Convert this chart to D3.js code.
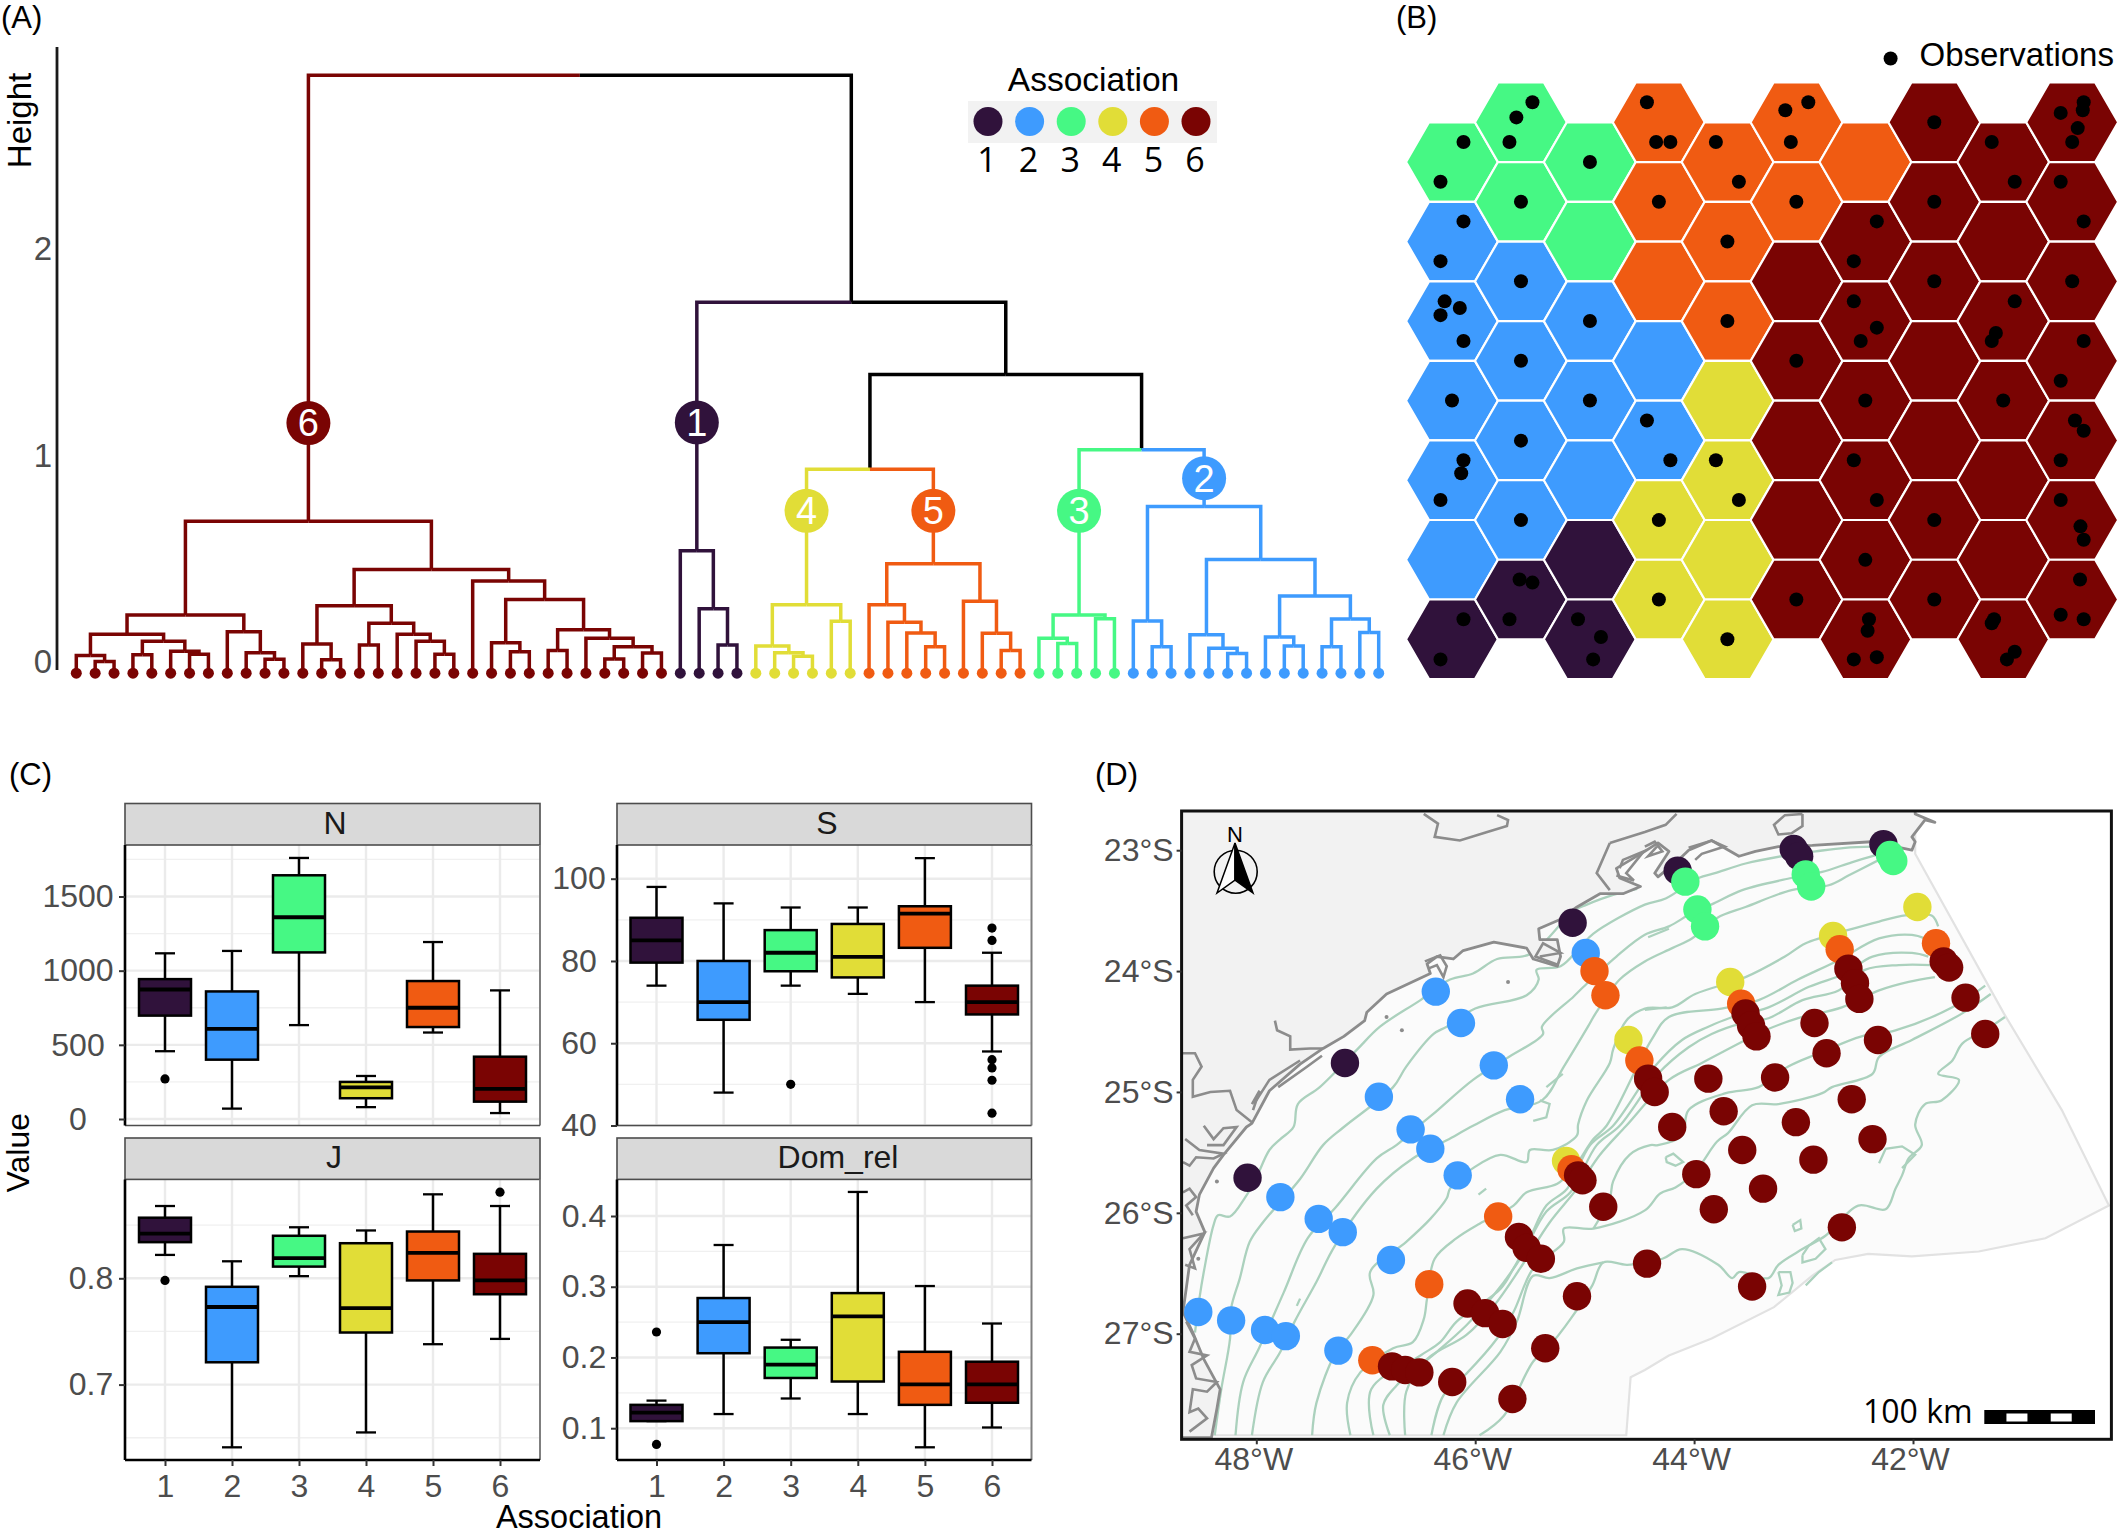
<!DOCTYPE html>
<html><head><meta charset="utf-8">
<script src="https://cdn.jsdelivr.net/npm/d3@7"></script>
<style>html,body{margin:0;padding:0;background:#fff}svg{display:block}text{font-family:'Liberation Sans',sans-serif}</style>
</head><body><svg id="fig" width="2121" height="1535" viewBox="0 0 2121 1535"></svg>
<script>
// ---------- shared ----------
const associations = ["1","2","3","4","5","6"];
const assocColors = ["#30123B","#3E9BFE","#46F884","#E1DD37","#F05B12","#7A0403"];

// ---------- (A) dendrogram: [height, left, right], 0 = leaf ----------
const cluster6 = [.682,
  [.227,
    [.134,[.032,0,[.002,0,0]],[.100,[.035,0,0],[.052,0,[.037,0,0]]]],
    [.147,0,[.045,0,[.013,0,0]]]],
  [.448,
    [.273,[.087,0,[.011,0,0]],[.188,[.082,0,0],[.134,0,[.100,0,[.037,0,0]]]]],
    [.392,0,[.303,[.093,0,[.050,0,0]],[.156,[.056,0,0],[.115,0,[.074,[.015,0,0],[.043,0,0]]]]]]]];
const cluster1 = [.539,0,[.258,0,[.082,0,0]]];
const cluster4 = [.277,[.078,0,[.045,0,[.028,0,0]]],[.197,0,0]];
const cluster5 = [.476,[.277,0,[.193,0,[.141,0,[.074,0,0]]]],[.294,0,[.139,0,[.056,0,0]]]];
const cluster3 = [.227,[.115,0,[.089,0,0]],[.210,0,0]];
const cluster2 = [.753,
  [.199,0,[.074,0,0]],
  [.496,
    [.132,0,[.067,0,[.041,0,0]]],
    [.320,[.121,0,[.078,0,0]],[.208,[.074,0,0],[.143,0,0]]]]];
const dendroRoot = [2.842,cluster6,[1.742,cluster1,[1.392,[.933,cluster4,cluster5],[1.028,cluster3,cluster2]]]];
const leafOrderSizes = [[6,32],[1,4],[4,6],[5,9],[3,5],[2,14]];
const clusterLabelHeights = {6:1.157,1:1.16,4:.732,5:.732,3:.732,2:.89};
const heightTicks = [0,1,2];
const leafHang = -0.054;

// ---------- (B) SOM grid: association per hexagon, column by column ----------
const somColumns = ["3222221","3322221","3322211","5552244","5554444","5566666","5666666","6666666","6666666","6666666"];
const somObservations = [[288,229],[253,263],[238,318],[138,318],[88,407],[413,363],[263,452],[537,229],[557,318],[588,318],[687,318],[737,407],[563,452],[712,541],[712,719],[888,229],[838,247],[850,318],[862,452],[1162,274],[1162,452],[1287,318],[1337,407],[1437,407],[1487,496],[1487,229],[1485,247],[1437,253],[1474,287],[1462,318],[1037,496],[987,585],[1162,630],[1462,630],[987,675],[1037,734],[1002,764],[1337,675],[1296,746],[1287,764],[1487,764],[1437,853],[862,808],[1012,897],[1312,897],[1468,942],[1487,965],[1437,1031],[987,1031],[1037,1120],[1162,1165],[1437,1120],[1480,1179],[1487,1209],[1012,1254],[862,1343],[1162,1343],[1479,1298],[1437,1377],[1487,1387],[1020,1387],[1017,1413],[987,1477],[1037,1472],[1292,1387],[1287,1396],[1337,1460],[1320,1477],[138,496],[88,585],[263,630],[97,675],[130,690],[88,706],[138,764],[413,719],[263,808],[113,897],[413,897],[263,987],[138,1031],[133,1060],[88,1120],[537,942],[588,1031],[263,1165],[687,1031],[737,1120],[563,1165],[563,1343],[712,1432],[260,1298],[288,1305],[238,1387],[138,1387],[88,1477],[387,1387],[437,1427],[420,1477]];

// ---------- (C) boxplots: [low whisker, q1, median, q3, high whisker] ----------
const boxN = [[457,697,873,943,1117],[70,400,607,860,1133],[633,1123,1360,1643,1760],[80,140,213,250,290],[583,620,750,930,1193],[40,117,203,420,867]];
const outN = [[0,270]];
const boxS = [[74,79.6,85,90.5,98],[48,65.7,70,80,94],[74,77.5,82,87.5,93],[72,76,81,89,93],[70,83.2,91.5,93.3,105],[58,67,70,74,82]];
const outS = [[2,50],[5,88],[5,85],[5,56],[5,54],[5,51],[5,43]];
const boxJ = [[.822,.834,.842,.857,.868],[.641,.721,.773,.792,.816],[.802,.811,.819,.840,.848],[.655,.749,.772,.833,.845],[.738,.798,.824,.844,.879],[.743,.785,.798,.823,.868]];
const outJ = [[0,.798],[5,.881]];
const boxDom = [[.110,.110,.122,.133,.139],[.120,.206,.250,.284,.359],[.142,.171,.190,.214,.225],[.120,.166,.258,.291,.434],[.073,.133,.162,.208,.301],[.101,.136,.162,.194,.248]];
const outDom = [[0,.236],[0,.077]];

// ---------- (D) map data, degrees (lon, lat south) ----------
const sites1 = [[-45.11,23.60],[-47.19,24.76],[-48.08,25.71],[-44.15,23.17],[-43.09,22.99],[-43.04,23.05],[-42.27,22.95]];
const sites2 = [[-44.99,23.85],[-46.36,24.17],[-46.13,24.43],[-45.83,24.78],[-45.59,25.06],[-46.88,25.04],[-46.59,25.31],[-46.41,25.47],[-46.16,25.69],[-47.78,25.87],[-47.43,26.05],[-47.21,26.16],[-46.77,26.39],[-48.53,26.82],[-48.23,26.89],[-47.92,26.97],[-47.73,27.02],[-47.25,27.14]];
const sites3 = [[-44.08,23.26],[-43.97,23.49],[-43.90,23.63],[-42.98,23.20],[-42.93,23.30],[-42.21,23.04],[-42.18,23.09]];
const sites4 = [[-45.17,25.57],[-41.96,23.47],[-42.73,23.71],[-43.67,24.09],[-44.60,24.57]];
const sites5 = [[-44.91,24.00],[-44.81,24.20],[-45.79,26.03],[-46.42,26.59],[-46.94,27.22],[-45.12,25.64],[-42.67,23.82],[-41.79,23.77],[-43.57,24.27],[-44.50,24.74]];
const sites6 = [[-45.06,25.69],[-45.02,25.73],[-44.83,25.95],[-45.60,26.20],[-45.53,26.29],[-45.40,26.38],[-46.07,26.75],[-45.91,26.83],[-45.75,26.92],[-45.07,26.69],[-45.36,27.12],[-46.76,27.27],[-46.64,27.30],[-46.51,27.32],[-46.21,27.40],[-45.66,27.54],[-42.59,23.98],[-42.53,24.10],[-42.49,24.23],[-41.72,23.92],[-41.67,23.97],[-41.52,24.22],[-41.34,24.52],[-43.53,24.35],[-43.48,24.45],[-43.43,24.54],[-42.90,24.43],[-42.79,24.68],[-42.32,24.57],[-44.42,24.89],[-44.36,25.00],[-43.87,24.89],[-43.26,24.88],[-42.56,25.06],[-43.73,25.16],[-43.07,25.25],[-42.37,25.39],[-44.20,25.29],[-43.56,25.48],[-42.91,25.56],[-43.98,25.68],[-43.37,25.80],[-43.82,25.97],[-42.65,26.12],[-44.43,26.42],[-43.47,26.61]];
const allSites = [sites1,sites2,sites3,sites4,sites5,sites6];

const iso1 = [[-48.56,26.99],[-48.52,26.71],[-48.48,26.49],[-48.39,26.10],[-48.35,26.02],[-48.24,26.03],[-48.10,25.87],[-48.01,25.73],[-47.88,25.48],[-47.78,25.39],[-47.66,25.29],[-47.62,25.10],[-47.42,24.96],[-47.08,24.65],[-46.87,24.46],[-46.50,24.24],[-46.23,24.07],[-46.02,24.02],[-45.80,23.90],[-45.50,23.86],[-45.10,23.50],[-44.98,23.45],[-44.74,23.37],[-44.52,23.32]];
const iso2 = [[-48.38,27.84],[-48.32,27.46],[-48.24,27.04],[-48.23,26.79],[-48.15,26.54],[-48.06,26.24],[-47.94,26.08],[-47.60,25.72],[-47.39,25.44],[-47.20,25.29],[-46.75,24.96],[-46.63,24.79],[-46.38,24.52],[-46.26,24.46],[-46.00,24.31],[-45.53,24.20],[-45.42,24.07],[-45.44,23.99],[-45.22,23.96],[-45.04,23.80],[-44.92,23.69],[-44.45,23.45],[-44.26,23.40],[-43.96,23.23],[-43.81,23.19],[-43.53,23.11],[-43.20,23.05],[-42.89,23.01],[-42.62,22.98],[-42.37,22.97]];
const iso3 = [[-48.19,27.84],[-48.12,27.40],[-47.97,27.11],[-47.75,26.66],[-47.53,26.21],[-47.28,25.96],[-46.90,25.55],[-46.72,25.44],[-46.53,25.29],[-46.38,25.18],[-46.02,24.90],[-45.71,24.72],[-45.38,24.52],[-45.39,24.46],[-45.10,24.21],[-45.01,24.13],[-44.71,23.88],[-44.45,23.70],[-44.23,23.63],[-44.02,23.52],[-43.82,23.44],[-43.56,23.33],[-43.11,23.23],[-42.83,23.18],[-42.56,23.10],[-42.34,23.04]];
const iso4 = [[-48.04,27.84],[-47.94,27.40],[-47.78,27.15],[-47.65,26.90],[-47.45,26.57],[-47.28,26.27],[-46.90,25.80],[-46.57,25.55],[-46.26,25.40],[-46.02,25.28],[-45.73,25.15],[-45.39,25.07],[-45.19,24.79],[-44.97,24.46],[-44.90,24.35],[-44.68,24.07],[-44.45,23.92],[-44.20,23.81],[-44.02,23.73],[-43.79,23.56],[-43.53,23.47],[-43.11,23.33],[-42.77,23.29],[-42.59,23.21],[-42.31,23.08]];
const iso5 = [[-47.49,27.84],[-47.45,27.57],[-47.27,27.15],[-47.14,27.01],[-46.93,26.68],[-46.96,26.49],[-46.63,26.24],[-46.41,26.05],[-46.26,25.88],[-46.23,25.80],[-46.02,25.63],[-45.77,25.52],[-45.53,25.58],[-45.50,25.48],[-45.29,25.48],[-45.07,25.36],[-45.06,25.27],[-44.98,25.07],[-44.77,24.76],[-44.74,24.65],[-44.62,24.41],[-44.45,24.31],[-44.20,24.30],[-43.99,24.19],[-43.53,24.05],[-43.17,23.88],[-42.98,23.77],[-42.59,23.66],[-42.31,23.59],[-42.07,23.54],[-41.83,23.54],[-41.77,23.63]];
const iso6 = [[-47.14,27.84],[-47.17,27.57],[-47.05,27.32],[-46.75,27.12],[-46.57,27.07],[-46.47,26.88],[-46.44,26.71],[-46.37,26.38],[-46.17,26.21],[-45.96,26.09],[-45.65,25.94],[-45.53,25.83],[-45.25,25.76],[-45.10,25.63],[-44.92,25.39],[-44.80,25.28],[-44.39,24.57],[-44.23,24.38],[-43.75,24.31],[-43.41,24.24],[-43.05,24.07],[-42.68,23.91],[-42.31,23.73],[-42.01,23.70],[-41.89,23.73]];
const iso7 = [[-46.93,27.84],[-46.95,27.46],[-46.50,27.18],[-46.32,27.07],[-46.17,26.90],[-45.77,26.63],[-45.65,26.46],[-45.50,26.21],[-45.35,25.94],[-45.16,25.80],[-44.95,25.44],[-44.74,25.28],[-44.36,24.79],[-44.11,24.57],[-43.87,24.46],[-43.68,24.39],[-43.32,24.30],[-42.95,24.13],[-42.62,24.02],[-42.37,23.88],[-42.01,23.85],[-41.86,23.88]];
const iso8 = [[-46.78,27.84],[-46.84,27.59],[-46.72,27.43],[-46.35,27.15],[-46.08,26.93],[-45.83,26.68],[-45.59,26.38],[-45.35,25.99],[-45.13,25.83],[-44.89,25.44],[-44.68,25.28],[-44.33,24.85],[-44.05,24.63],[-43.84,24.52],[-43.56,24.43],[-43.32,24.39],[-43.01,24.24],[-42.68,24.16],[-42.44,23.99],[-42.13,23.95],[-41.83,23.95]];
const iso9 = [[-46.64,27.84],[-46.63,27.48],[-46.44,27.21],[-46.08,27.01],[-45.83,26.77],[-45.59,26.46],[-45.32,26.08],[-45.07,25.80],[-44.86,25.52],[-44.62,25.28],[-44.23,24.90],[-43.93,24.76],[-43.53,24.57],[-43.35,24.49],[-43.05,24.39],[-42.65,24.30],[-42.31,24.16],[-42.04,24.09],[-41.80,24.05]];
const iso10 = [[-46.40,27.84],[-46.29,27.51],[-46.08,27.33],[-45.80,27.04],[-45.65,26.82],[-45.47,26.46],[-45.19,26.24],[-45.19,26.13],[-44.92,26.13],[-44.45,25.98],[-44.31,25.84],[-44.17,25.79],[-43.99,25.66],[-43.79,25.41],[-43.69,25.34],[-43.47,25.11],[-43.23,25.10],[-42.83,25.01],[-42.74,24.96],[-42.37,24.85],[-42.31,24.71],[-42.01,24.57],[-41.55,24.35],[-41.29,24.19]];
const iso11 = [[-44.92,26.13],[-44.77,25.88],[-44.74,25.74],[-44.59,25.52],[-44.40,25.44],[-44.33,25.44],[-44.11,25.36],[-44.05,25.15],[-43.71,25.01],[-43.41,24.96],[-43.14,24.79],[-42.86,24.68],[-42.47,24.54],[-42.16,24.49],[-41.64,24.30],[-41.34,24.12]];
const iso12 = [[-46.29,27.84],[-46.17,27.57],[-45.77,27.15],[-45.62,26.90],[-45.47,26.52],[-45.32,26.54],[-45.07,26.46],[-44.83,26.41]];
const iso13 = [[-45.96,27.84],[-45.74,27.68],[-45.47,27.23],[-45.32,27.10],[-45.13,26.88],[-44.93,26.60],[-44.83,26.41],[-44.61,26.43],[-44.29,26.38],[-44.11,26.30],[-43.78,26.43],[-43.65,26.54],[-43.59,26.49],[-43.32,26.54],[-43.23,26.43],[-43.01,26.30],[-42.80,26.19],[-42.50,25.94],[-42.25,25.97],[-42.16,25.80],[-42.10,25.69],[-42.04,25.55],[-41.92,25.44],[-41.98,25.27],[-41.89,25.10],[-41.74,25.07],[-41.58,24.90],[-41.77,24.85],[-41.64,24.74],[-41.55,24.60],[-41.34,24.49],[-41.16,24.38]];
const isoSmall = [
 [[-43.01,26.35],[-42.95,26.27],[-42.86,26.21],[-42.80,26.30],[-42.89,26.38],[-43.01,26.41],[-43.01,26.35]],
 [[-43.23,26.49],[-43.20,26.60],[-43.23,26.68],[-43.13,26.66],[-43.10,26.58],[-43.12,26.49],[-43.23,26.49]],
 [[-42.31,25.59],[-42.25,25.47],[-42.10,25.45],[-41.98,25.52],[-42.10,25.63]],
 [[-42.98,26.60],[-42.86,26.49],[-42.74,26.41]],
 [[-44.26,25.54],[-44.19,25.51],[-44.10,25.58],[-44.17,25.61],[-44.25,25.58],[-44.26,25.54]],
 [[-45.35,24.96],[-45.20,24.85]],
 [[-45.41,25.07],[-45.32,25.10],[-45.35,25.21],[-45.47,25.24]],
 [[-47.60,26.71],[-47.63,26.77]],
 [[-45.97,25.85],[-45.90,25.80]],
 [[-44.42,23.72],[-44.23,23.65]],
 [[-44.45,24.32],[-44.25,24.30]],
 [[-43.10,26.10],[-43.03,26.06],[-43.02,26.13],[-43.08,26.15],[-43.10,26.10]]
];
const allIsobaths = [iso1,iso2,iso3,iso4,iso5,iso6,iso7,iso8,iso9,iso10,iso11,iso12,iso13];

const studyArea = [[-41.98,23.03],[-41.17,24.35],[-40.64,25.15],[-40.21,25.94],[-40.79,26.21],[-41.40,26.32],[-42.01,26.36],[-42.41,26.34],[-42.71,26.39],[-42.92,26.52],[-43.27,26.78],[-43.84,27.04],[-44.23,27.18],[-44.45,27.30],[-44.58,27.36],[-44.62,27.84],[-48.41,27.84],[-48.9,27.84],[-48.9,22.5],[-41.98,22.5]];
const coastline = [[-48.41,27.86],[-48.36,27.62],[-48.33,27.46],[-48.48,27.21],[-48.58,26.99],[-48.67,26.82],[-48.61,26.43],[-48.47,26.16],[-48.55,25.99],[-48.52,25.85],[-48.39,25.63],[-48.30,25.52],[-48.09,25.29],[-48.04,25.26],[-47.88,24.99],[-47.60,24.77],[-47.39,24.64],[-47.20,24.54],[-47.01,24.41],[-46.99,24.34],[-46.81,24.19],[-46.41,24.02],[-46.44,23.94],[-46.35,23.88],[-46.20,23.90],[-46.11,23.83],[-45.83,23.76],[-45.53,23.81],[-45.47,23.90],[-45.25,23.96],[-45.22,23.88],[-45.25,23.74],[-45.41,23.74],[-45.42,23.65],[-45.24,23.58],[-45.07,23.47],[-44.86,23.36],[-44.65,23.36],[-44.49,23.30],[-44.68,23.23],[-44.71,23.15],[-44.45,23.01],[-44.33,22.94],[-44.23,23.01],[-44.36,23.19],[-44.33,23.22],[-44.14,23.08],[-44.05,23.00],[-43.84,22.92],[-43.59,23.05],[-43.44,23.01],[-43.23,22.97],[-42.92,22.96],[-42.38,22.93],[-42.01,23.00],[-41.98,22.93],[-42.01,22.89],[-41.89,22.75],[-41.80,22.77],[-41.98,22.70],[-41.98,22.5],[-48.9,22.5],[-48.9,27.86]];
const landLines = [
 [[-46.47,22.70],[-46.34,22.78],[-46.37,22.89],[-46.14,22.92],[-45.89,22.85],[-45.71,22.80],[-45.70,22.75],[-45.80,22.71]],
 [[-47.83,24.41],[-47.81,24.49],[-47.69,24.54],[-47.69,24.65],[-47.51,24.64],[-47.39,24.64]],
 [[-48.67,24.68],[-48.56,24.68],[-48.50,24.79],[-48.58,24.90],[-48.58,25.04],[-48.42,25.00],[-48.24,24.99],[-48.18,25.15],[-48.04,25.25]],
 [[-48.65,25.39],[-48.52,25.48],[-48.30,25.51],[-48.39,25.55],[-48.55,25.54],[-48.61,25.61],[-48.67,25.58]],
 [[-48.48,25.28],[-48.39,25.39],[-48.30,25.30],[-48.18,25.29],[-48.30,25.44],[-48.45,25.44]],
 [[-48.67,25.83],[-48.61,25.80],[-48.55,25.87],[-48.64,25.94],[-48.58,26.02]],
 [[-48.67,26.21],[-48.48,26.17],[-48.61,26.30],[-48.56,26.46],[-48.65,26.43]],
 [[-48.64,26.90],[-48.56,27.04],[-48.61,27.15],[-48.45,27.18],[-48.59,27.26],[-48.55,27.37],[-48.36,27.40],[-48.45,27.48],[-48.58,27.46],[-48.61,27.65],[-48.53,27.62],[-48.45,27.70],[-48.61,27.81]],
 [[-46.46,23.92],[-46.32,23.87],[-46.26,23.96],[-46.29,24.05],[-46.35,23.95],[-46.43,23.98]],
 [[-44.71,23.21],[-44.55,23.25],[-44.62,23.19],[-44.46,23.01],[-44.65,23.08],[-44.68,23.15]],
 [[-45.41,23.88],[-45.22,23.85],[-45.38,23.77],[-45.45,23.88],[-45.24,23.95]],
 [[-44.45,22.97],[-44.36,22.93],[-44.29,23.01],[-44.42,23.05],[-44.34,22.97]],
 [[-44.05,22.98],[-43.84,22.92],[-43.72,22.97],[-43.93,23.03],[-43.99,23.08]],
 [[-48.00,25.07],[-47.88,24.90],[-47.60,24.74]],
 [[-48.04,25.10],[-47.97,24.99],[-48.03,25.15]],
 [[-44.77,22.94],[-44.89,23.19],[-44.77,23.33]],
 [[-44.77,22.94],[-44.45,22.85],[-44.26,22.79],[-44.16,22.70]],
 [[-43.01,22.70],[-43.17,22.71],[-43.27,22.79],[-43.23,22.87],[-43.11,22.86],[-43.01,22.80],[-43.01,22.70]],
 [[-47.80,24.96],[-47.55,24.80],[-47.40,24.70]]
];
const landSpecks = [[-45.70,24.09],[-46.67,24.49],[-46.81,24.38],[-48.36,25.74],[-48.53,26.38]];
const latTicks = [23,24,25,26,27];
const lonTicks = [-48,-46,-44,-42];

// ---------- drawing ----------
const svg = d3.select("#fig");
const GREY = "#4d4d4d";
const colorOf = a => assocColors[associations.indexOf(String(a))];
function label(g,txt,x,y,size,opts={}){
  const t=g.append("text").attr("x",x).attr("y",y).attr("font-size",size).text(txt)
    .attr("text-anchor",opts.anchor||"start").attr("fill",opts.fill||"#000");
  if(opts.dy) t.attr("dy",opts.dy);
  if(opts.family) t.style("font-family",opts.family);
  if(opts.rotate) t.attr("transform",`rotate(${opts.rotate} ${x} ${y})`);
  return t;
}
[["(A)",1,28],["(B)",1396,28],["(C)",9,785],["(D)",1095,785]].forEach(d=>label(svg,d[0],d[1],d[2],31));

// ---- A ----
(function(){
  const g = svg.append("g");
  const yA = d3.scaleLinear().domain([0,2]).range([662,249]);
  const root = d3.hierarchy(dendroRoot, d => Array.isArray(d) ? d.slice(1) : null);
  const leaves = root.leaves();
  const xA = d3.scaleLinear().domain([0,leaves.length-1]).range([76.3,1378.7]);
  const clusterOfLeaf = leafOrderSizes.flatMap(([c,n]) => d3.range(n).map(()=>c));
  leaves.forEach((l,i)=>{ l.xp=xA(i); l.cl=clusterOfLeaf[i]; l.h=leafHang; });
  root.eachAfter(n=>{
    if(n.children){
      n.xp=d3.mean(n.children,c=>c.xp);
      n.h=n.data[0];
      const s=new Set(n.children.map(c=>c.cl));
      n.cl = (s.size===1 && !s.has(0)) ? [...s][0] : 0;
    }
  });
  const branch = root.descendants().filter(n=>n.parent);
  g.selectAll("path.branch").data(branch).join("path").attr("class","branch")
    .attr("fill","none").attr("stroke-width",3.5).attr("stroke-linejoin","miter")
    .attr("stroke",n=>n.cl? colorOf(n.cl):"#000")
    .attr("d",n=>`M${n.parent.xp},${yA(n.parent.h)}H${n.xp}V${yA(n.h)}`);
  g.selectAll("circle.leaf").data(leaves).join("circle").attr("class","leaf")
    .attr("cx",n=>n.xp).attr("cy",n=>yA(n.h)).attr("r",5.5).attr("fill",n=>colorOf(n.cl));
  const clusterRoots = root.descendants().filter(n=>n.cl && (!n.parent || n.parent.cl!==n.cl));
  clusterRoots.forEach(n=>{
    const y=yA(clusterLabelHeights[n.cl]);
    g.append("circle").attr("cx",n.xp).attr("cy",y).attr("r",22).attr("fill",colorOf(n.cl));
    label(g,String(n.cl),n.xp,y,38,{anchor:"middle",fill:"#fff",dy:"0.35em"});
  });
  const ax = g.append("g").attr("transform","translate(57,0)")
    .call(d3.axisLeft(yA).tickValues(heightTicks).tickFormat(d3.format("d")).tickSize(0).tickPadding(5));
  ax.select(".domain").remove();
  ax.selectAll("text").attr("font-size",33).attr("fill",GREY).style("font-family","'Liberation Sans'");
  g.append("line").attr("x1",57).attr("x2",57).attr("y1",47).attr("y2",670).attr("stroke","#1a1a1a").attr("stroke-width",2.8);
  label(g,"Height",31,120.5,33,{anchor:"middle",rotate:-90});
  // legend
  const lx = d3.scalePoint().domain(associations).range([988,1196]);
  g.append("rect").attr("x",968).attr("y",101).attr("width",249).attr("height",42).attr("fill","#f2f2f2");
  label(g,"Association",1093.5,91,33.5,{anchor:"middle"});
  g.selectAll("circle.lg").data(associations).join("circle").attr("class","lg")
    .attr("cx",d=>lx(d)).attr("cy",121.5).attr("r",14.5).attr("fill",d=>colorOf(d));
  associations.forEach(d=>label(g,d,lx(d)-1,172,34,{anchor:"middle",family:"'Open Sans'"}));
})();

// ---- B ----
(function(){
  const g = svg.append("g");
  const cx = d3.scaleLinear().domain([0,9]).range([1452,2072.2]);
  const cy = d3.scaleLinear().domain([0,13]).range([122.3,639.3]);
  const R = (cx(1)-cx(0))*2/3;
  const hex = d3.range(6).map(i=>[R*Math.cos(i*Math.PI/3),R*Math.sin(i*Math.PI/3)]);
  const cells = somColumns.flatMap((col,c)=>col.split("").map((a,r)=>({a,x:cx(c),y:cy(r*2+(c%2===0?1:0))})));
  g.selectAll("path.cell").data(cells).join("path").attr("class","cell")
    .attr("d",d=>"M"+hex.map(p=>[d.x+p[0],d.y+p[1]].join(",")).join("L")+"Z")
    .attr("fill",d=>colorOf(d.a)).attr("stroke","#fff").attr("stroke-width",2.2);
  const ox = d3.scaleLinear().domain([113,1462]).range([1452,2072.2]);
  const oy = d3.scaleLinear().domain([274,1432]).range([122.3,639.3]);
  g.selectAll("circle.obs").data(somObservations).join("circle").attr("class","obs")
    .attr("cx",d=>ox(d[0])).attr("cy",d=>oy(d[1])).attr("r",7).attr("fill","#000");
  g.append("circle").attr("cx",1890.6).attr("cy",58.5).attr("r",7).attr("fill","#000");
  label(g,"Observations",1919.5,66,33);
})();

// ---- C ----
function facet(o){
  const g = svg.append("g");
  const {left,right,top,bottom,stripTop} = o;
  const x = d3.scalePoint().domain(d3.range(6)).range(o.xRange);
  const y = d3.scaleLinear().domain(o.yDomain).range(o.yRange);
  o.minor.forEach(v=>g.append("line").attr("x1",left).attr("x2",right).attr("y1",y(v)).attr("y2",y(v)).attr("stroke","#f0f0f0").attr("stroke-width",1.3));
  o.major.forEach(v=>g.append("line").attr("x1",left).attr("x2",right).attr("y1",y(v)).attr("y2",y(v)).attr("stroke","#ebebeb").attr("stroke-width",2.4));
  d3.range(6).forEach(i=>g.append("line").attr("x1",x(i)).attr("x2",x(i)).attr("y1",top).attr("y2",bottom).attr("stroke","#ebebeb").attr("stroke-width",2.4));
  const bw=52, cap=20;
  o.boxes.forEach((b,i)=>{
    const cxx=x(i);
    g.append("line").attr("x1",cxx).attr("x2",cxx).attr("y1",y(b[0])).attr("y2",y(b[4])).attr("stroke","#000").attr("stroke-width",2.5);
    [b[0],b[4]].forEach(v=>g.append("line").attr("x1",cxx-cap/2).attr("x2",cxx+cap/2).attr("y1",y(v)).attr("y2",y(v)).attr("stroke","#000").attr("stroke-width",2.3));
    g.append("rect").attr("x",cxx-bw/2).attr("width",bw).attr("y",y(b[3])).attr("height",y(b[1])-y(b[3]))
      .attr("fill",assocColors[i]).attr("stroke","#000").attr("stroke-width",2.5);
    g.append("line").attr("x1",cxx-bw/2).attr("x2",cxx+bw/2).attr("y1",y(b[2])).attr("y2",y(b[2])).attr("stroke","#000").attr("stroke-width",3.8);
  });
  o.outliers.forEach(p=>g.append("circle").attr("cx",x(p[0])).attr("cy",y(p[1])).attr("r",4.6).attr("fill","#000"));
  // strip
  g.append("rect").attr("x",left).attr("y",stripTop).attr("width",right-left).attr("height",top-stripTop)
    .attr("fill","#d9d9d9").attr("stroke","#4d4d4d").attr("stroke-width",1.6);
  label(g,o.title,o.titleX,(top+stripTop)/2-2,32,{anchor:"middle",fill:"#1a1a1a",dy:"0.36em"});
  // border
  g.append("line").attr("x1",right).attr("x2",right).attr("y1",top).attr("y2",bottom).attr("stroke","#7f7f7f").attr("stroke-width",2);
  g.append("line").attr("x1",left).attr("x2",right).attr("y1",bottom).attr("y2",bottom).attr("stroke",o.showX?"#000":"#4d4d4d").attr("stroke-width",o.showX?2.4:1.6);
  g.append("line").attr("x1",left).attr("x2",left).attr("y1",top).attr("y2",bottom).attr("stroke","#000").attr("stroke-width",2.6);
  // axes
  const ay = g.append("g").attr("transform",`translate(${left},0)`)
    .call(d3.axisLeft(y).tickValues(o.major).tickSize(6).tickFormat(o.fmt));
  ay.select(".domain").remove();
  ay.selectAll("line").attr("stroke","#333").attr("stroke-width",2);
  ay.selectAll("text").attr("font-size",32).attr("fill",GREY).attr("text-anchor","middle").attr("x",-o.labelOff).style("font-family","'Liberation Sans'");
  if(o.showX){
    const ax = g.append("g").attr("transform",`translate(0,${bottom})`)
      .call(d3.axisBottom(x).tickSize(6).tickFormat(i=>associations[i]));
    ax.select(".domain").remove();
    ax.selectAll("line").attr("stroke","#333").attr("stroke-width",2);
    ax.selectAll("text").attr("font-size",32).attr("fill",GREY).attr("y",14).style("font-family","'Liberation Sans'");
  }
}
const leftX=[165,500], rightX=[656.5,992];
facet({title:"N",titleX:335,left:125,right:540,stripTop:803.5,top:845,bottom:1125.5,xRange:leftX,yDomain:[0,1500],yRange:[1119,896.5],major:[0,500,1000,1500],minor:[250,750,1250,1750],boxes:boxN,outliers:outN,fmt:d3.format("d"),labelOff:47,showX:false});
facet({title:"S",titleX:827,left:617,right:1031.5,stripTop:803.5,top:845,bottom:1125.5,xRange:rightX,yDomain:[40,100],yRange:[1125.5,878.7],major:[40,60,80,100],minor:[50,70,90],boxes:boxS,outliers:outS,fmt:d3.format("d"),labelOff:38,showX:false});
facet({title:"J",titleX:334,left:125,right:540,stripTop:1138,top:1179.4,bottom:1460,xRange:leftX,yDomain:[.7,.8],yRange:[1384.6,1278.3],major:[.7,.8],minor:[.65,.75,.85],boxes:boxJ,outliers:outJ,fmt:d3.format(".1f"),labelOff:34,showX:true});
facet({title:"Dom_rel",titleX:838,left:617,right:1031.5,stripTop:1138,top:1179.4,bottom:1460,xRange:rightX,yDomain:[.1,.4],yRange:[1428.2,1216],major:[.1,.2,.3,.4],minor:[.15,.25,.35],boxes:boxDom,outliers:outDom,fmt:d3.format(".1f"),labelOff:33,showX:true});
label(svg,"Value",29.5,1152.7,32,{anchor:"middle",rotate:-90});
label(svg,"Association",579,1528,32.5,{anchor:"middle"});

// ---- D ----
(function(){
  const fL=1181.6,fR=2111.4,fT=811,fB=1439.3;
  const defs=svg.append("defs");
  defs.append("clipPath").attr("id","mapclip").append("rect").attr("x",fL).attr("y",fT).attr("width",fR-fL).attr("height",fB-fT);
  const g=svg.append("g");
  const map=g.append("g").attr("clip-path","url(#mapclip)");
  const mx=d3.scaleLinear().domain([-48,-42]).range([1256.3,1913]);
  const my=d3.scaleLinear().domain([23,27]).range([850.2,1333.7]);
  const straight=d3.line().x(d=>mx(d[0])).y(d=>my(d[1]));
  const smooth=d3.line().x(d=>mx(d[0])).y(d=>my(d[1])).curve(d3.curveCatmullRom.alpha(.5));
  map.append("path").attr("d",straight(studyArea)+"Z").attr("fill","#fbfbfb").attr("stroke","#e2e2e2").attr("stroke-width",2.2);
  map.selectAll("path.iso").data(allIsobaths).join("path").attr("class","iso").attr("d",smooth)
    .attr("fill","none").attr("stroke","#abd1bd").attr("stroke-width",2.3);
  map.selectAll("path.isos").data(isoSmall).join("path").attr("class","isos").attr("d",straight)
    .attr("fill","none").attr("stroke","#abd1bd").attr("stroke-width",2.3);
  map.append("path").attr("d",straight(coastline)+"Z").attr("fill","#f2f2f2").attr("stroke","#8c8c8c").attr("stroke-width",2.8).attr("stroke-linejoin","round");
  map.selectAll("path.ll").data(landLines).join("path").attr("class","ll").attr("d",straight)
    .attr("fill","none").attr("stroke","#8c8c8c").attr("stroke-width",2.6);
  map.selectAll("circle.sp").data(landSpecks).join("circle").attr("class","sp")
    .attr("cx",d=>mx(d[0])).attr("cy",d=>my(d[1])).attr("r",2).attr("fill","#8c8c8c");
  allSites.forEach((s,i)=>{
    map.selectAll("circle.s"+i).data(s).join("circle").attr("class","s"+i)
      .attr("cx",d=>mx(d[0])).attr("cy",d=>my(d[1])).attr("r",14.2).attr("fill",assocColors[i]);
  });
  // north arrow
  const na=g.append("g").attr("transform","translate(1235,0)");
  label(na,"N",0,842,22,{anchor:"middle"});
  na.append("circle").attr("cx",0.7).attr("cy",871.7).attr("r",21.5).attr("fill","none").attr("stroke","#000").attr("stroke-width",1.6);
  na.append("path").attr("d","M0,843L-18,893L0,880Z").attr("fill","#fff").attr("stroke","#000").attr("stroke-width",1.5);
  na.append("path").attr("d","M0,843L18,893L0,880Z").attr("fill","#000").attr("stroke","#000").attr("stroke-width",1.5);
  // scale bar
  g.append("rect").attr("x",1984.3).attr("y",1410).attr("width",110.7).attr("height",14).attr("fill","#000");
  [1,3].forEach(i=>g.append("rect").attr("x",1984.3+i*22.14).attr("y",1413.5).attr("width",21).attr("height",8).attr("fill","#fff"));
  label(g,"100 km",1863,1423,32,{family:"'Open Sans'"});
  // frame and axes
  g.append("rect").attr("x",fL).attr("y",fT).attr("width",fR-fL).attr("height",fB-fT).attr("fill","none").attr("stroke","#111").attr("stroke-width",3);
  const ay=g.append("g").attr("transform",`translate(${fL},0)`).call(d3.axisLeft(my).tickValues(latTicks).tickSize(5).tickPadding(3).tickFormat(d=>d+"°S"));
  ay.select(".domain").remove();
  ay.selectAll("line").attr("stroke","#333").attr("stroke-width",2);
  ay.selectAll("text").attr("font-size",32).attr("fill",GREY).style("font-family","'Liberation Sans'");
  const ax=g.append("g").attr("transform",`translate(0,${fB})`).call(d3.axisBottom(mx).tickValues(lonTicks).tickSize(5).tickPadding(3).tickFormat(d=>(-d)+"°W"));
  ax.select(".domain").remove();
  ax.selectAll("line").attr("stroke","#333").attr("stroke-width",2);
  ax.selectAll("text").attr("font-size",32).attr("fill",GREY).attr("dx",-3).style("font-family","'Liberation Sans'");
})();
</script></body></html>
